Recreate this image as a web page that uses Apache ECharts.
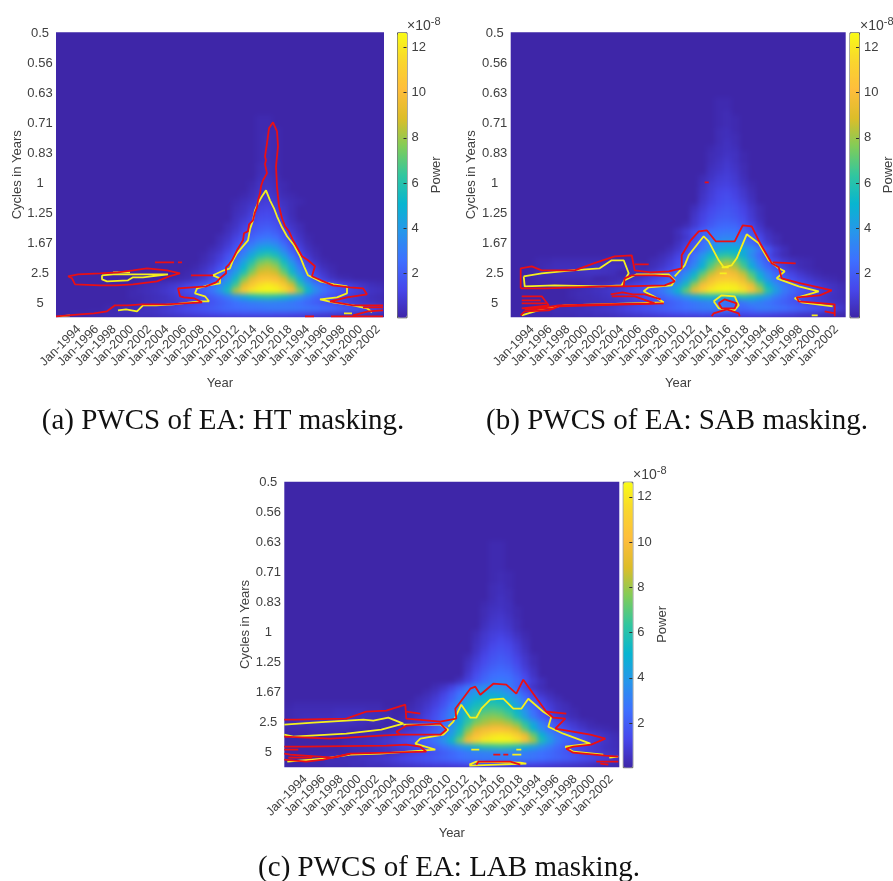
<!DOCTYPE html>
<html><head><meta charset="utf-8">
<style>html,body{margin:0;padding:0;background:#fff}#chart{width:893px;height:881px}</style>
<script src="https://cdn.jsdelivr.net/npm/echarts@6/dist/echarts.min.js"></script>
</head><body><div id="chart"></div>
<script>
// Tick labels
const YEAR_LABELS=['Jan-1994','Jan-1996','Jan-1998','Jan-2000','Jan-2002','Jan-2004','Jan-2006','Jan-2008','Jan-2010','Jan-2012','Jan-2014','Jan-2016','Jan-2018','Jan-1994','Jan-1996','Jan-1998','Jan-2000','Jan-2002'];
const CYCLE_LABELS=['0.5','0.56','0.63','0.71','0.83','1','1.25','1.67','2.5','5'];
const POWER_TICKS=[2,4,6,8,10,12];
// Power (tenths of 1e-8) per scale row: [row, first time column, values]
const HT_POWER=[
[47,2,[1,1,2,2,3,3,4,4,5,5,6,7,8,9,10,11,12,13,14,15,15,16,16,16,16,15,15,14,13,12,11,10,9,8,7,6,5,4,3]],
[46,6,[2,2,3,3,4,5,6,8,10,12,14,16,18,20,22,24,25,26,27,28,29,30,30,30,29,28,27,25,24,22,20,18,16,14,11]],
[45,10,[2,3,4,5,6,8,10,12,15,17,20,23,26,28,30,31,32,31,30,28,26,23,20,17,15,12,10,8,6,5,4]],
[44,9,[2,2,3,4,5,7,9,11,13,16,20,24,30,38,46,54,58,60,58,54,46,38,30,24,20,16,13,10,8,6,4,3]],
[43,9,[2,3,4,5,7,9,12,15,18,22,28,38,56,84,108,120,125,126,125,118,102,76,52,36,27,22,18,14,11,8,6,5]],
[42,10,[2,3,4,5,7,9,12,15,19,25,34,46,66,92,108,118,122,118,108,88,62,42,30,24,18,14,11,8,6,4,3]],
[41,15,[2,3,5,8,14,24,36,54,76,94,104,106,102,90,70,48,30,18,10,6,3,2]],
[40,16,[2,4,7,12,20,30,42,60,78,90,92,88,74,54,36,22,12,7,3]],
[39,17,[2,5,9,15,24,35,50,68,82,85,80,64,46,29,16,9,4,2]],
[38,18,[3,6,11,18,28,42,58,72,76,70,54,37,22,11,5,2]],
[37,18,[2,5,9,15,23,33,46,58,62,56,42,27,15,7,3]],
[36,19,[3,6,11,18,26,36,45,48,43,32,20,11,5,2]],
[35,20,[4,8,14,21,28,34,36,33,24,15,8,3]],
[34,20,[3,6,11,17,22,26,28,25,18,11,6,2]],
[33,21,[4,8,13,18,21,23,20,14,8,4]],
[32,21,[3,6,11,15,18,19,17,11,6,3]],
[31,22,[5,8,12,15,16,14,9,4]],
[30,22,[4,6,10,13,14,12,7,3]],
[29,22,[3,5,8,11,12,10,6,3]],
[28,22,[2,4,6,9,10,8,5,3,2]],
[27,23,[2,4,7,8,6,3,2]],
[26,24,[3,6,7,5,2]],
[25,24,[2,5,6,4,2]],
[24,25,[4,5,3]],[23,25,[3,4,2]],[22,25,[3,4,2]],[21,25,[2,3,2]],[20,25,[2,3,2]],[19,25,[2,3,2]],[18,25,[2,3,2]],[17,25,[2,3,2]],[16,25,[2,2,2]],[15,25,[2,2]],[14,25,[2,2]]
];
const SAB_POWER=[
[47,0,[1,1,2,2,2,3,3,3,4,4,5,5,6,7,8,9,10,11,12,13,14,15,15,16,15,13,12,12,13,14,14,13,12,11,10,8,7,6,4,3,2]],
[46,2,[1,2,2,3,3,4,4,5,6,7,8,10,12,14,16,18,20,22,24,26,28,30,31,32,30,26,24,26,30,30,28,26,24,22,20,18,15,12,8]],
[45,8,[2,3,3,4,5,6,8,10,12,14,17,20,23,26,28,30,32,28,22,22,28,32,30,27,24,21,18,15,12,10,8,6,5]],
[44,7,[2,3,3,4,5,6,8,10,12,15,18,22,26,31,38,46,54,56,52,50,54,58,54,46,38,30,24,19,15,12,9,7,5,4]],
[43,7,[2,3,4,5,6,8,10,13,16,20,24,29,38,52,72,96,112,122,125,126,125,120,106,84,60,42,30,24,19,15,11,8,6,4]],
[42,9,[2,3,4,5,7,9,12,15,19,24,30,40,56,80,100,112,120,122,120,112,96,72,50,36,28,22,17,13,10,7,5,3]],
[41,12,[2,3,4,6,9,12,16,22,30,42,60,82,98,108,110,108,96,76,54,37,27,20,15,11,8,5,3,2]],
[40,14,[2,3,5,8,12,17,24,34,48,68,84,96,100,96,84,66,46,32,23,16,11,7,4,2]],
[39,16,[2,4,7,11,16,24,35,50,70,84,90,84,68,48,33,23,15,10,6,3,2]],
[38,17,[3,5,9,14,20,30,44,62,74,78,74,60,42,28,19,13,8,5,3,2]],
[37,18,[3,6,11,17,26,38,52,60,62,58,48,34,23,14,7,3]],
[36,19,[3,7,13,20,28,36,44,48,50,46,38,28,18,9,4]],
[35,20,[5,10,18,26,34,38,40,38,33,25,16,8,3]],
[34,20,[3,7,13,21,28,31,33,32,28,21,13,6,3]],
[33,20,[4,9,15,21,25,27,28,27,23,16,9,4]],
[32,21,[3,8,14,19,23,24,23,18,12,6]],
[31,22,[7,12,17,20,21,19,15,9,4]],
[30,22,[6,11,15,18,19,17,13,8,3]],
[29,22,[4,9,13,16,18,16,12,7,3]],
[28,23,[7,11,14,16,14,10,5]],
[27,23,[6,10,13,15,12,8,4]],
[26,23,[5,9,12,13,11,7,3]],
[25,23,[4,8,10,11,9,5,2]],
[24,23,[3,6,9,10,8,4]],
[23,24,[5,7,9,7,3]],
[22,24,[4,6,8,6,3]],
[21,24,[3,5,7,5,2]],
[20,24,[3,4,6,5,2]],
[19,24,[2,4,5,4]],
[18,25,[3,5,3]],[17,25,[3,4,3]],[16,25,[3,4,2]],[15,25,[2,3,2]],[14,25,[2,3,2]],[13,25,[2,3]],[12,25,[2,2]],[11,25,[2,2]],
[38,3,[2,2,3,3,3,3,3,3,3,3,2,2]],[39,3,[2,3,4,4,4,4,5,5,5,5,5,4,3]],[40,3,[2,3,4,5,5,5,6,6,5,4]],[41,3,[2,2,3,3,3,3,3]]
];
const LAB_POWER=[
[47,0,[1,1,2,2,2,3,3,3,4,4,5,5,6,7,8,9,10,11,12,12,13,14,15,15,15,15,15,15,14,14,13,12,11,10,9,8,7,6,4,3,2]],
[46,2,[1,2,2,3,3,4,4,5,6,7,8,10,12,14,16,18,20,22,24,26,28,29,30,30,30,30,30,29,28,26,24,22,20,18,16,14,12,10,7]],
[45,8,[2,3,3,4,5,6,8,10,12,14,17,20,23,26,28,30,31,32,32,32,31,30,28,26,24,21,18,15,12,10,8,6,5]],
[44,7,[2,3,3,4,5,6,8,10,12,15,18,22,27,32,38,46,54,60,62,64,62,58,52,44,36,30,24,19,15,12,9,7,5,4]],
[43,7,[2,3,4,5,6,8,10,13,16,20,24,29,38,52,74,100,114,122,125,126,125,120,106,82,58,42,30,24,19,15,11,8,6,4]],
[42,9,[2,3,4,5,7,9,12,15,19,24,31,42,60,86,102,112,118,120,118,110,94,72,50,36,28,22,17,13,10,7,5,3]],
[41,12,[2,3,5,7,10,14,19,26,38,54,74,90,98,102,102,98,88,70,50,35,26,19,14,10,7,4,3,2]],
[40,13,[2,3,5,8,12,17,24,34,48,64,76,82,86,86,82,74,60,44,31,22,15,10,7,4,2]],
[39,14,[2,4,7,11,16,23,33,46,60,70,76,78,76,70,58,42,29,20,13,8,5,3]],
[38,15,[3,5,9,14,21,30,43,55,63,68,70,68,62,52,38,26,17,11,6,4,2]],
[37,15,[2,4,7,11,17,25,36,47,55,60,62,60,54,44,32,22,14,9,5,3]],
[36,16,[3,5,9,14,21,30,40,48,52,54,52,46,37,26,17,11,6,3]],
[35,17,[3,6,11,18,26,34,40,44,45,43,38,30,20,12,6,3]],
[34,18,[3,6,11,19,27,33,35,36,35,30,22,12,6,3]],
[33,21,[5,11,18,24,28,30,28,23,16,9,4]],
[32,22,[8,15,21,25,26,25,20,13,6]],
[31,22,[6,12,18,22,24,22,17,10,5]],
[30,22,[5,10,15,19,21,19,14,8,3]],
[29,22,[3,8,13,17,19,17,12,7,3]],
[28,23,[6,11,15,17,15,10,5]],
[27,23,[5,9,13,15,13,9,4]],
[26,23,[4,8,11,13,11,7,3]],
[25,23,[3,7,10,11,9,5,2]],
[24,24,[5,8,9,7,3]],
[23,24,[4,7,8,6,3]],
[22,24,[3,6,7,5,2]],
[21,24,[3,5,6,4,2]],
[20,24,[2,4,5,4]],
[19,25,[3,5,3]],[18,25,[3,4,3]],[17,25,[3,4,2]],[16,25,[2,3,2]],[15,25,[2,3,2]],[14,25,[2,2]],[13,25,[2,2]],[12,25,[2,2]],[11,25,[2,2]],[10,25,[2,2]],
[37,0,[1,2,2,2,2,2,2,2,2,2,2,2]],[38,0,[2,3,3,3,3,3,4,4,4,4,3,3,2]],[39,0,[2,3,4,4,4,4,5,5,5,5,5,4,3]],[40,0,[2,3,4,4,5,5,5,5,5,4,3,3]],[41,0,[2,2,2,3,3,3,3,3,2,2]]
];
// Contours as [time sample, scale sample]
const HT_RED=[
[[0,284],[12,283],[24,282],[38,281],[51,279],[55,276],[59,273],[72,273],[86,272],[100,272],[111,272],[128,271],[146,270],[138,266],[128,265],[124,264],[122,256],[136,255],[150,254],[160,250],[164,246],[170,241],[170,235],[173,232],[176,228],[178,224],[181,218],[184,213],[187,208],[188,201],[192,199],[193,192],[197,188],[199,180],[201,175],[202,168],[204,161],[205,154],[207,148],[211,141],[209,132],[210,128],[209,124],[211,111],[213,96],[217,90],[221,99],[222,114],[220,134],[221,154],[223,174],[226,186],[229,194],[233,199],[237,208],[241,215],[246,224],[252,228],[259,234],[256,244],[265,248],[277,253],[294,255],[307,256],[311,262],[291,265],[274,269],[297,273],[327,273]],
[[12,244],[22,242],[44,241],[62,240],[77,238],[91,236],[111,238],[124,241],[113,244],[101,249],[77,252],[60,253],[44,253],[19,252],[16,246],[12,244]],
[[99,230],[118,230]],[[122,230],[126,230]],[[135,243],[157,243]],[[297,283],[312,279],[327,278]],[[307,275],[327,275]],[[249,284],[258,284]],[[275,284],[327,284]]
];
const HT_YELLOW=[
[[4,284],[14,283]],[[62,278],[70,277],[81,279],[87,273],[100,273],[117,272],[144,269],[153,269],[149,264],[139,261],[141,256],[152,253],[164,251],[164,246],[157,243],[168,238],[174,236],[177,228],[181,221],[186,215],[192,208],[194,197],[197,188],[199,178],[202,171],[206,164],[210,158],[214,168],[218,176],[221,184],[226,195],[231,204],[238,213],[244,224],[248,234],[252,243],[264,249],[278,252],[291,254],[291,261],[281,265],[264,267],[277,270],[297,273],[311,276],[316,280]],
[[46,243],[57,242],[87,242],[112,242],[87,245],[77,245],[72,248],[51,249],[46,247],[46,243]],
[[57,240],[74,240]],[[288,281],[296,281]]
];
const SAB_RED=[
[[10,256],[10,236],[21,234],[31,238],[64,238],[83,231],[104,224],[121,223],[124,238],[140,240],[158,239],[171,236],[171,223],[180,208],[188,199],[196,198],[205,209],[224,209],[232,193],[241,194],[250,212],[261,231],[268,235],[271,246],[290,251],[308,255],[321,258],[309,263],[286,265],[288,269],[324,272],[324,284]],
[[10,256],[34,256],[94,254],[113,254],[114,246],[121,243],[144,243],[159,244],[164,249],[154,253],[113,254]],
[[11,264],[31,264],[38,273],[11,276],[34,275],[48,273],[88,272],[144,271],[124,264],[101,264]],
[[153,271],[48,274],[38,278],[14,279],[10,283]],
[[11,268],[30,268]],[[11,271],[36,271]],[[14,277],[44,276]],[[100,262],[112,260],[122,262],[134,262],[150,267]],
[[208,271],[214,267],[226,271],[224,276],[211,276],[208,271]],
[[201,284],[203,281],[216,277],[228,281],[229,284]],
[[314,279],[324,281]],[[194,150],[198,150]],[[262,230],[285,231]],[[124,232],[138,232]]
];
const SAB_YELLOW=[
[[13,244],[31,241],[61,238],[89,236],[101,228],[113,228],[118,241],[111,253],[91,254],[44,253],[14,254],[13,244]],
[[114,248],[126,242],[158,242],[164,248],[161,253],[138,255],[133,259],[143,264],[153,270],[88,272],[54,273],[34,276],[11,283]],
[[164,244],[174,233],[178,223],[193,204],[198,209],[208,228],[213,235],[221,233],[226,226],[236,202],[248,211],[258,228],[268,236],[274,239],[266,246],[288,254],[308,259],[284,266],[291,270],[322,274]],
[[203,269],[211,263],[224,264],[228,273],[224,278],[208,276],[203,269]],
[[211,235],[218,235]],[[209,241],[216,241]],[[301,283],[307,283]]
];
const LAB_RED=[
[[0,238],[12,238],[62,237],[82,230],[102,229],[121,223],[122,237],[156,240],[172,237],[171,227],[186,207],[191,205],[196,213],[209,202],[222,203],[232,212],[239,198],[249,212],[262,230],[269,236],[281,237],[271,247],[306,253],[321,257],[307,263],[289,265],[282,267],[289,271],[321,274],[334,275]],
[[0,255],[46,257],[96,254],[116,253],[112,250],[122,244],[156,242],[162,248],[156,253],[116,253]],
[[0,265],[20,265],[102,264],[122,263],[136,265],[142,270],[66,272],[49,276],[6,273],[0,272]],
[[0,278],[22,280],[39,278],[66,272]],
[[0,268],[14,268]],[[4,276],[28,276]],[[122,230],[136,232]],
[[192,283],[194,280],[226,280],[236,283]],[[209,273],[216,273]],[[219,273],[224,273]],[[312,280],[334,280]],[[316,282],[324,283]],[[262,230],[282,232]]
];
const LAB_YELLOW=[
[[0,243],[29,241],[79,238],[89,239],[104,236],[119,242],[97,248],[62,252],[9,255],[0,253]],
[[119,243],[156,243],[164,248],[159,253],[136,257],[131,262],[151,268],[96,272],[66,273],[39,277],[3,280]],
[[164,245],[169,240],[177,223],[186,236],[192,236],[197,227],[206,218],[219,217],[229,227],[237,227],[244,217],[259,230],[267,235],[264,245],[279,252],[306,262],[281,265],[289,270],[319,273]],
[[187,268],[195,268]],[[232,268],[237,268]],[[228,273],[237,273]],
[[185,283],[192,280],[236,281],[242,282],[241,284],[185,284]],[[325,276],[334,275]]
];

const PALETTE=['#3e26a8','#4747eb','#3e6fff','#2796eb','#08b5d0','#31c69f','#80cc59','#dcbd29','#febd3c','#f9d62d','#f9fb15'];
const FONT='"Liberation Sans",Arial,sans-serif', TXT='#404040';
const COLS=Array.from({length:41},(_,i)=>i), ROWS=Array.from({length:48},(_,i)=>i);
const panels=[
 {cap:'(a) PWCS of EA: HT masking.',capX:223,capY:421,x:56,y:32.3,w:328,h:285,bar:397,tick0:23,step:17.6,heat:HT_POWER,red:HT_RED,yel:HT_YELLOW,expX:407,expY:16},
 {cap:'(b) PWCS of EA: SAB masking.',capX:677,capY:421,x:510.7,y:32.3,w:335,h:285,bar:849.5,tick0:21.5,step:17.9,heat:SAB_POWER,red:SAB_RED,yel:SAB_YELLOW,expX:860,expY:16},
 {cap:'(c) PWCS of EA: LAB masking.',capX:449,capY:868,x:284.3,y:481.7,w:335,h:285.5,bar:622.8,tick0:21,step:18,heat:LAB_POWER,red:LAB_RED,yel:LAB_YELLOW,expX:633,expY:465}
];
const grid=[],xAxis=[],yAxis=[],series=[],visualMap=[],title=[];
panels.forEach((p,k)=>{
  const base=grid.length;
  const g={left:p.x,top:p.y,width:p.w,height:p.h,outerBoundsMode:'none'};
  const n=YEAR_LABELS.length;
  grid.push({...g},{...g},{...g,left:p.bar,width:9.5},{...g,left:p.x+p.tick0-p.step/2,width:p.step*n});
  xAxis.push({gridIndex:base,type:'category',data:COLS,show:false,zlevel:0});
  yAxis.push({gridIndex:base,type:'category',data:ROWS,inverse:true,show:false,zlevel:0});
  xAxis.push({gridIndex:base+1,type:'value',min:0,max:p.w,zlevel:1,name:'Year',nameLocation:'middle',nameGap:60,
    nameTextStyle:{fontFamily:FONT,fontSize:13,color:TXT},
    axisLine:{show:false},axisTick:{show:false},splitLine:{show:false},axisLabel:{show:false}});
  yAxis.push({gridIndex:base+1,type:'value',min:0,max:p.h,inverse:true,zlevel:1,name:'Cycles in Years',nameLocation:'middle',nameGap:31,
    nameTextStyle:{fontFamily:FONT,fontSize:13,color:TXT},
    axisLine:{show:false},axisTick:{show:false},splitLine:{show:false},
    axisLabel:{customValues:CYCLE_LABELS.map((_,i)=>0.7+30*i),formatter:v=>CYCLE_LABELS[Math.round((v-0.7)/30)],align:'center',margin:16,fontFamily:FONT,fontSize:13,color:TXT,hideOverlap:false,showMinLabel:true,showMaxLabel:true}});
  xAxis.push({gridIndex:base+2,type:'value',min:0,max:1,show:false,zlevel:1});
  yAxis.push({gridIndex:base+2,type:'value',min:0.05,max:12.67,position:'right',zlevel:1,z:10,name:'Power',nameLocation:'middle',nameRotate:90,nameGap:23,
    nameTextStyle:{fontFamily:FONT,fontSize:13,color:TXT},
    axisLine:{show:false,onZero:false},splitLine:{show:false},
    axisTick:{show:true,inside:true,length:3,customValues:POWER_TICKS,lineStyle:{color:'#303030'}},
    axisLabel:{customValues:POWER_TICKS,margin:5,fontFamily:FONT,fontSize:13,color:TXT}});
  xAxis.push({gridIndex:base+3,type:'category',data:YEAR_LABELS,zlevel:1,axisLine:{show:false},axisTick:{show:false},splitLine:{show:false},
    axisLabel:{interval:0,rotate:45,margin:10,fontFamily:FONT,fontSize:12.5,color:TXT,hideOverlap:false}});
  yAxis.push({gridIndex:base+3,type:'value',min:0,max:1,show:false,zlevel:1});
  const data=[];
  p.heat.forEach(([r,s,vals])=>vals.forEach((v,i)=>data.push([s+i,r,v/10])));
  const heatIdx=series.length;
  series.push({type:'heatmap',xAxisIndex:base,yAxisIndex:base,data,zlevel:0,silent:true,progressive:0,animation:false,itemStyle:{borderWidth:0}});
  p.yel.forEach(d=>series.push({type:'line',xAxisIndex:base+1,yAxisIndex:base+1,data:d,zlevel:1,z:3,symbol:'none',silent:true,animation:false,lineStyle:{color:'#f6f01e',width:1.8}}));
  p.red.forEach(d=>series.push({type:'line',xAxisIndex:base+1,yAxisIndex:base+1,data:d,zlevel:1,z:4,symbol:'none',silent:true,animation:false,lineStyle:{color:'#ea0f14',width:1.8}}));
  visualMap.push({type:'continuous',seriesIndex:heatIdx,min:0.05,max:12.67,left:p.bar,top:p.y,itemWidth:9.5,itemHeight:p.h,padding:0,calculable:false,realtime:false,hoverLink:false,zlevel:1,z:1,borderColor:'#555',borderWidth:1,inRange:{color:PALETTE}});
  title.push({text:p.cap,left:p.capX,top:p.capY,textAlign:'center',textVerticalAlign:'middle',zlevel:1,padding:0,textStyle:{fontFamily:'"Liberation Serif",serif',fontSize:29,fontWeight:'normal',color:'#111'}});
  title.push({text:'{a|×10}{b|-8}',left:p.expX,top:p.expY,zlevel:1,padding:0,textStyle:{fontWeight:'normal',rich:{a:{fontFamily:FONT,fontSize:14,fontWeight:'normal',color:TXT,verticalAlign:'bottom'},b:{fontFamily:FONT,fontSize:11,fontWeight:'normal',color:TXT,verticalAlign:'bottom',padding:[0,0,6,0]}}}});
});
const chart=echarts.init(document.getElementById('chart'),null,{renderer:'canvas',width:893,height:881});
chart.setOption({animation:false,backgroundColor:'#3e26a8',tooltip:{show:false},title,grid,xAxis,yAxis,visualMap,series});
// The power field sits on its own layer: soften the cell grid and keep it inside the three plots.
const field=chart.getDom().querySelector('canvas');
field.style.filter='blur(2.4px)';
field.style.clipPath="path('"+panels.map(p=>`M${p.x} ${p.y}H${p.x+p.w}V${p.y+p.h}H${p.x}Z`).join(' ')+"')";
</script></body></html>
